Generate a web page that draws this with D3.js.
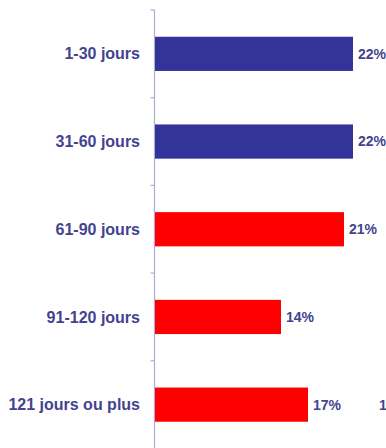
<!DOCTYPE html>
<html><head><meta charset="utf-8">
<script src="https://cdn.jsdelivr.net/npm/d3@7"></script>
<style>body{margin:0;background:#fff;overflow:hidden}svg{display:block}</style>
</head><body>
<svg id="c" width="386" height="448"></svg>
<script>
const categories = ["1-30 jours","31-60 jours","61-90 jours","91-120 jours","121 jours ou plus"];
const values = [22, 22, 21, 14, 17];
const valueLabels = ["22%","22%","21%","14%","17%"];
const colors = ["#333399","#333399","#ff0000","#ff0000","#ff0000"];
const edgeLabel = "1";

const svg = d3.select("#c");
const y = d3.scaleBand().domain(categories).range([10, 448.5]).paddingInner(0.61).paddingOuter(0.305);
const x = d3.scaleLinear().domain([0, 100]).range([155, 1055]);
const textCol = "#43438f";
const font = "'Liberation Sans', Arial, sans-serif";

// axis line and boundary ticks
const axisX = 154.5;
svg.append("line").attr("x1", axisX).attr("x2", axisX).attr("y1", 10).attr("y2", 448)
  .attr("stroke", "#acacd8").attr("stroke-width", 1.2);
const bounds = categories.map(c => y(c) - y.step() * y.paddingInner() / 2);
svg.selectAll("line.tk").data(bounds).join("line").attr("class","tk")
  .attr("x1", axisX - 4).attr("x2", axisX).attr("y1", d => d).attr("y2", d => d)
  .attr("stroke", "#acacd8").attr("stroke-width", 1.2);

// bars
svg.selectAll("rect.bar").data(categories).join("rect").attr("class","bar")
  .attr("x", x(0)).attr("y", d => y(d)).attr("height", y.bandwidth())
  .attr("width", (d,i) => x(values[i]) - x(0)).attr("fill", (d,i) => colors[i]);

// category labels
svg.selectAll("text.cat").data(categories).join("text").attr("class","cat")
  .attr("x", 140).attr("y", d => y(d) + y.bandwidth()/2).attr("dy", "0.35em")
  .attr("text-anchor", "end").attr("font-family", font).attr("font-weight", "bold")
  .attr("font-size", 16).attr("fill", textCol).text(d => d);

// value labels
svg.selectAll("text.val").data(categories).join("text").attr("class","val")
  .attr("x", (d,i) => x(values[i]) + 5).attr("y", d => y(d) + y.bandwidth()/2).attr("dy", "0.35em")
  .attr("font-family", font).attr("font-weight", "bold").attr("font-size", 14)
  .attr("fill", textCol).text((d,i) => valueLabels[i]);

// partial label of a neighbouring column at the right edge
svg.append("text").attr("x", 379).attr("y", y(categories[4]) + y.bandwidth()/2).attr("dy","0.35em")
  .attr("font-family", font).attr("font-weight", "bold").attr("font-size", 14)
  .attr("fill", textCol).text(edgeLabel);
</script>
</body></html>
